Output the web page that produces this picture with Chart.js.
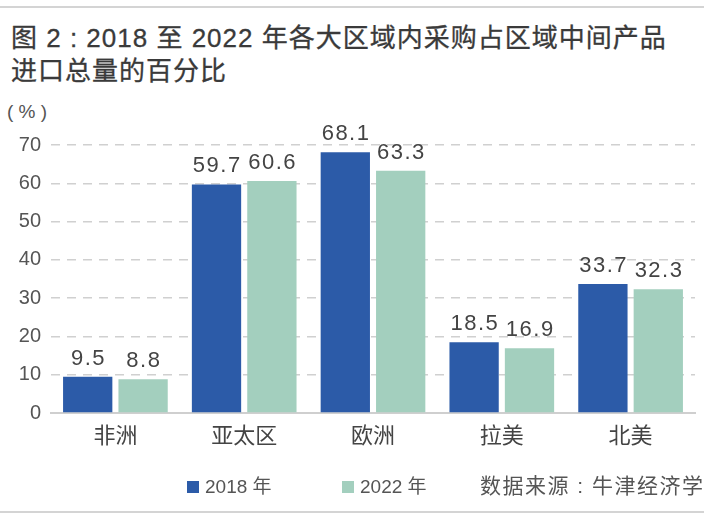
<!DOCTYPE html>
<html><head><meta charset="utf-8">
<script src="https://cdn.jsdelivr.net/npm/chart.js@4"></script>
<style>
html,body{margin:0;padding:0;background:#fff;}
body{width:712px;height:522px;position:relative;overflow:hidden;font-family:"Noto Sans CJK SC","Liberation Sans",sans-serif;color:#444;}
#topline{position:absolute;left:0;top:6px;width:704px;height:2px;background:#d4d4d4;}
#botline{position:absolute;left:0;top:511px;width:704px;height:2px;background:#d4d4d4;}
#title{position:absolute;left:11px;top:22px;font-size:26px;line-height:33px;font-weight:normal;color:#3a3a3a;letter-spacing:1px;-webkit-text-stroke:0.3px #3a3a3a;font-family:"Liberation Sans","Noto Sans CJK SC",sans-serif;white-space:nowrap;}
#unit{position:absolute;left:7px;top:101px;font-size:19px;color:#555;font-family:"Liberation Sans","Noto Sans CJK SC",sans-serif;}
#c{position:absolute;left:0;top:0;}
.leg{position:absolute;top:475px;font-size:19px;color:#555;line-height:24px;font-family:"Liberation Sans","Noto Sans CJK SC",sans-serif;white-space:nowrap;}
.sw{position:absolute;top:481px;width:12px;height:12px;}
</style></head>
<body>
<div id="topline"></div>
<div id="title">图 2 : 2018 至 2022 年各大区域内采购占区域中间产品<br>进口总量的百分比</div>
<div id="unit">(&nbsp;%&nbsp;)</div>
<canvas id="c" width="712" height="522"></canvas>
<div class="sw" style="left:187px;background:#2c5ba8"></div>
<div class="leg" style="left:205px">2018 年</div>
<div class="sw" style="left:342px;background:#a3cfbe"></div>
<div class="leg" style="left:360px">2022 年</div>
<div class="leg" style="left:480px;font-size:21px;top:474px;letter-spacing:1.5px">数据来源 : 牛津经济学</div>
<div id="botline"></div>
<script>
const categories = ["非洲","亚太区","欧洲","拉美","北美"];
const seriesNames = ["2018 年","2022 年"];
const values2018 = [9.5, 59.7, 68.1, 18.5, 33.7];
const values2022 = [8.8, 60.6, 63.3, 16.9, 32.3];
const yTicks = [0,10,20,30,40,50,60,70];

const labelPlugin = {
  id:'valueLabels',
  afterDatasetsDraw(chart){
    const ctx = chart.ctx;
    ctx.save();
    ctx.font = '22px "Liberation Sans", Arial, sans-serif';
    try { ctx.letterSpacing = '1.5px'; } catch(e) {}
    ctx.fillStyle = '#444';
    ctx.textAlign = 'center';
    ctx.textBaseline = 'alphabetic';
    chart.data.datasets.forEach((ds,i)=>{
      const meta = chart.getDatasetMeta(i);
      meta.data.forEach((el,j)=>{
        ctx.fillText(ds.data[j].toFixed(1), el.x + 0.75, el.y - 12);
      });
    });
    ctx.restore();
  }
};

new Chart(document.getElementById('c'), {
  type:'bar',
  data:{
    labels:categories,
    datasets:[
      {label:seriesNames[0], data:values2018, backgroundColor:'#2c5ba8', barPercentage:0.89, categoryPercentage:0.86},
      {label:seriesNames[1], data:values2022, backgroundColor:'#a3cfbe', barPercentage:0.89, categoryPercentage:0.86}
    ]
  },
  options:{
    responsive:false,
    animation:false,
    devicePixelRatio:1,
    layout:{padding:{top:145,left:1,right:17,bottom:0}},
    plugins:{legend:{display:false},tooltip:{enabled:false}},
    scales:{
      x:{
        grid:{display:false,drawTicks:false},
        border:{display:true,color:'#cfcfcf',width:2},
        ticks:{color:'#444',font:{size:22,family:'"Noto Sans CJK SC", sans-serif'},padding:8},
        afterFit(s){ s.height = 109; }
      },
      y:{
        min:0,max:70,
        afterBuildTicks(s){ s.ticks = yTicks.map(v=>({value:v})); },
        grid:{drawTicks:false, color:(c)=> (c.tick && c.tick.value===0) ? 'rgba(0,0,0,0)' : '#d0d0d0', lineWidth:1.5},
        border:{display:false, dash:[9,7]},
        ticks:{color:'#555',font:{size:20,family:'"Liberation Sans", Arial, sans-serif'},padding:10},
        afterFit(s){ s.width = 50; }
      }
    }
  },
  plugins:[labelPlugin]
});
</script>
</body></html>
